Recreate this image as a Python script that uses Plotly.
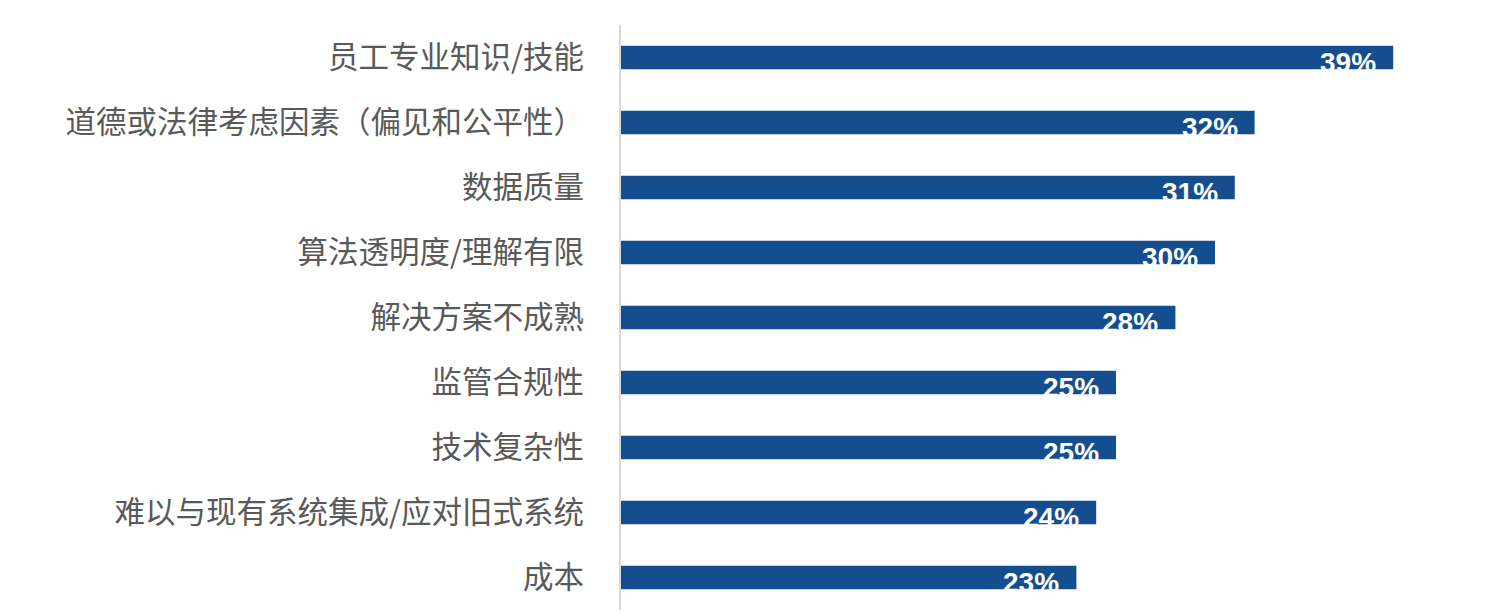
import plotly.graph_objects as go

# 类别与数值
categories = [
    '员工专业知识/技能',
    '道德或法律考虑因素（偏见和公平性）',
    '数据质量',
    '算法透明度/理解有限',
    '解决方案不成熟',
    '监管合规性',
    '技术复杂性',
    '难以与现有系统集成/应对旧式系统',
    '成本',
]
values = [39, 32, 31, 30, 28, 25, 25, 24, 23]
value_labels = [f'{v}%' for v in values]

bar_color = '#154e8f'

fig = go.Figure()
fig.add_trace(go.Bar(
    x=values,
    y=categories,
    orientation='h',
    width=0.36,
    marker=dict(color=bar_color, line=dict(width=0)),
    hoverinfo='skip',
))

# 数值标签（白色，略微下移，超出条形部分与背景融为一体）
for cat, v, lab in zip(categories, values, value_labels):
    fig.add_annotation(
        x=v, y=cat, xref='x', yref='y',
        text=lab, showarrow=False,
        xanchor='right', yanchor='middle',
        xshift=-15, yshift=-5,
        font=dict(family='Liberation Sans, Arial', size=28, color='white', weight='bold'),
    )

# 页面有 8px 的默认边距，所以图整体收小 8px
fig.update_layout(
    width=1486, height=608,
    margin=dict(l=613, r=81, t=17, b=6),
    plot_bgcolor='white',
    paper_bgcolor='white',
    showlegend=False,
    xaxis=dict(
        range=[0, 40],
        showgrid=False, zeroline=False, showticklabels=False,
        showline=False,
    ),
    yaxis=dict(
        autorange='reversed',
        showgrid=False, zeroline=False,
        showline=True, linecolor='#d9d9d9', linewidth=2,
        ticks='', ticklabelstandoff=29,
        tickfont=dict(family='Noto Sans CJK SC', size=30.5, color='#595959'),
    ),
)

fig.write_html('out.html')
